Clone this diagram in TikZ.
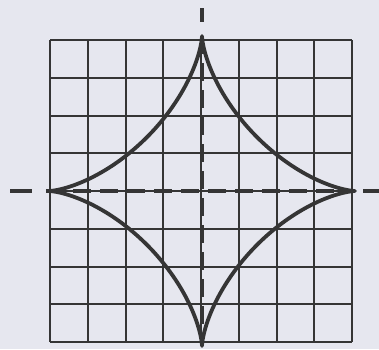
\documentclass[tikz,border=0pt]{standalone}
\begin{document}
\begin{tikzpicture}[x=1pt,y=-1pt,
  gridline/.style={line width=2pt,draw=ink},
  curve/.style={line width=3.8pt,draw=ink,line join=round},
  axis/.style={line width=3.3pt,draw=ink,dash pattern=on 18pt off 9pt}]
\definecolor{bg}{HTML}{E6E7EF}
\definecolor{ink}{HTML}{353535}
\fill[bg] (0,0) rectangle (379,349);
\useasboundingbox (0,0) rectangle (379,349);
% grid
\foreach \i in {0,...,8}{
  \draw[gridline] ({50+\i*37.75},40) -- ({50+\i*37.75},342);
  \draw[gridline] (50,{40+\i*37.75}) -- (352,{40+\i*37.75});
}
% axes
\coordinate (l1) at (10,191); \coordinate (l2) at (32,191);
\coordinate (r1) at (363,191); \coordinate (r2) at (379,191);
\coordinate (h1) at (46,191); \coordinate (h2) at (352,191);
\coordinate (t1) at (202,8); \coordinate (t2) at (202,22);
\coordinate (v1) at (202,36); \coordinate (v2) at (202,346);
\draw[line width=3.2pt,draw=ink] (l1) -- (l2);
\draw[line width=3.2pt,draw=ink] (r1) -- (r2);
\draw[line width=3.2pt,draw=ink] (t1) -- (t2);
\draw[axis] (h1) -- (h2);
\draw[axis] (v1) -- (v2);
% astroid
\draw[curve] plot[domain=0:360,samples=240,smooth]
  ({202+153*cos(\x)*cos(\x)*cos(\x)},{191+155*sin(\x)*sin(\x)*sin(\x)}) -- cycle;
\end{tikzpicture}
\end{document}
